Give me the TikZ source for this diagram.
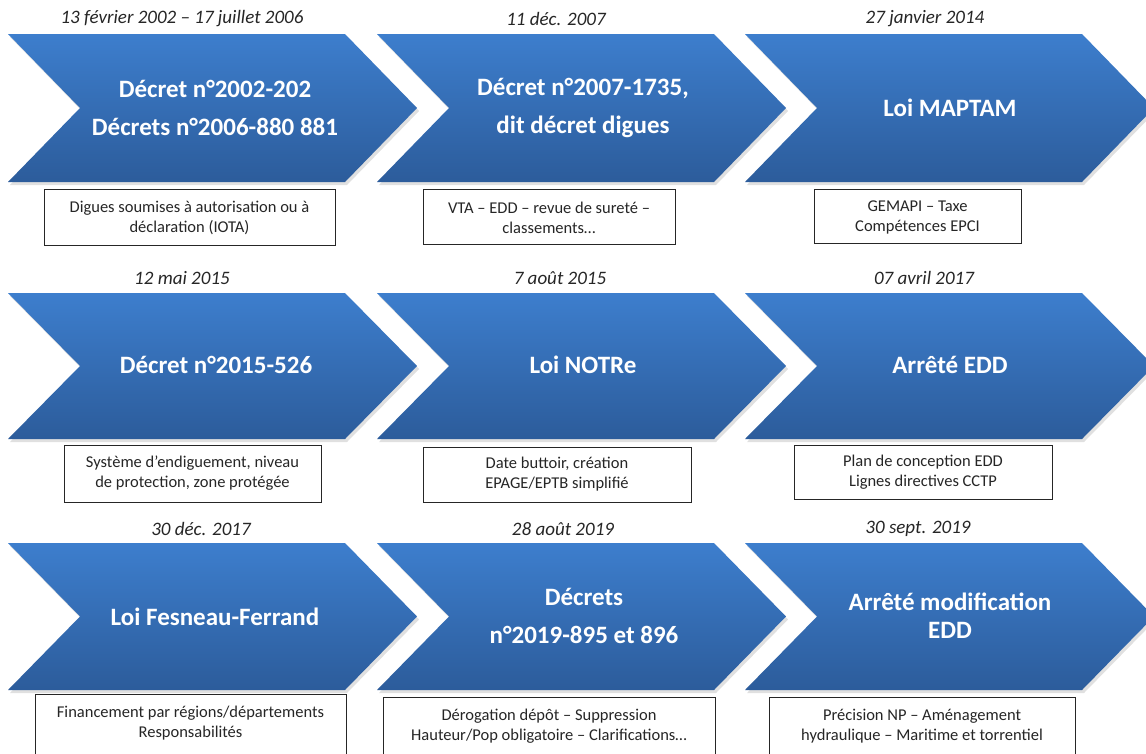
\documentclass[tikz,border=0pt]{standalone}
\usepackage{fontspec}
\setmainfont{Carlito}
\definecolor{chevtop}{RGB}{61,126,205}
\definecolor{chevbot}{RGB}{44,92,155}
\tikzset{
  chev/.style={top color=chevtop, bottom color=chevbot, draw=none},
  chevshadow/.style={fill=black, opacity=0.12, draw=none},
  datelbl/.style={font=\fontsize{19}{22}\selectfont\itshape, text=black!85, inner sep=0pt},
  titlelbl/.style={font=\fontsize{25}{38}\selectfont\bfseries, text=white, align=center, inner sep=0pt},
  infobox/.style={draw=black!85, line width=0.9pt, fill=white, inner sep=0pt},
  infotxt/.style={font=\fontsize{16.5}{20}\selectfont, text=black!85, align=center, inner sep=0pt}
}
\newcommand{\chevron}[3]{% x0, top, bottom
  \pgfmathsetmacro{\cmid}{(#2+#3)/2}%
  \fill[chevshadow] (#1+2,#2+3) -- (#1+339,#2+3) -- (#1+411,\cmid+3) -- (#1+339,#3+3) -- (#1+2,#3+3) -- (#1+74,\cmid+3) -- cycle;
  \path[chev] (#1,#2) -- (#1+337,#2) -- (#1+409,\cmid) -- (#1+337,#3) -- (#1,#3) -- (#1+72,\cmid) -- cycle;
}
\begin{document}
\begin{tikzpicture}[x=1pt,y=-1pt]
\useasboundingbox (0,0) rectangle (1146,753);
\clip (0,0) rectangle (1146,753);
\fill[white] (0,0) rectangle (1146,753);
% chevrons
\chevron{8}{34}{182}
\chevron{377}{34}{182}
\chevron{745}{34}{182}
\chevron{8}{293}{439}
\chevron{377}{293}{439}
\chevron{745}{293}{439}
\chevron{8}{543}{690}
\chevron{377}{543}{690}
\chevron{745}{543}{690}
% dates
\node[datelbl] (d1) at (182,19) {13 février 2002 -- 17 juillet 2006};
\node[datelbl] (d2) at (556,19) {11 déc. 2007};
\node[datelbl] (d3) at (925,19) {27 janvier 2014};
\node[datelbl] (d4) at (182,278) {12 mai 2015};
\node[datelbl] (d5) at (560,278) {7 août 2015};
\node[datelbl] (d6) at (924,278) {07 avril 2017};
\node[datelbl] (d7) at (201,529) {30 déc. 2017};
\node[datelbl] (d8) at (563,529) {28 août 2019};
\node[datelbl] (d9) at (918,529) {30 sept. 2019};
% titles
\node[titlelbl] (t1) at (215,108) {Décret n°2002-202\\Décrets n°2006-880 881};
\node[titlelbl] (t2) at (583,108) {Décret n°2007-1735,\\dit décret digues};
\node[titlelbl] (t3) at (950,108) {Loi MAPTAM};
\node[titlelbl] (t4) at (216,365) {Décret n°2015-526};
\node[titlelbl] (t5) at (583,365) {Loi NOTRe};
\node[titlelbl] (t6) at (950,365) {Arrêté EDD};
\node[titlelbl] (t7) at (215,617) {Loi Fesneau-Ferrand};
\node[titlelbl] (t8) at (584,616) {Décrets\\n°2019-895 et 896};
\node[titlelbl, font=\fontsize{25}{28}\selectfont\bfseries] (t9) at (950,616) {Arrêté modification\\EDD};
% boxes
\draw[infobox] (44,189) rectangle (335,245);
\node[infotxt] (b1) at (189.5,218) {Digues soumises à autorisation ou à\\déclaration (IOTA)};
\draw[infobox] (423,189) rectangle (675,244);
\node[infotxt] (b2) at (549,218) {VTA -- EDD -- revue de sureté --\\classements…};
\draw[infobox] (814,189) rectangle (1021,243);
\node[infotxt] (b3) at (917.5,217) {GEMAPI -- Taxe\\Compétences EPCI};
\draw[infobox] (64,445) rectangle (321,502);
\node[infotxt] (b4) at (192.5,473) {Système d’endiguement, niveau\\de protection, zone protégée};
\draw[infobox] (423,447) rectangle (691,502);
\node[infotxt] (b5) at (557,474) {Date buttoir, création\\EPAGE/EPTB simplifié};
\draw[infobox] (794,445) rectangle (1052,499);
\node[infotxt] (b6) at (923,472) {Plan de conception EDD\\Lignes directives CCTP};
\draw[infobox] (35,694) rectangle (346,770);
\node[infotxt] (b7) at (190.5,723) {Financement par régions/départements\\Responsabilités};
\draw[infobox] (383,697) rectangle (715,770);
\node[infotxt] (b8) at (549,726) {Dérogation dépôt -- Suppression\\Hauteur/Pop obligatoire -- Clarifications…};
\draw[infobox] (769,697) rectangle (1075,770);
\node[infotxt] (b9) at (922,726) {Précision NP -- Aménagement\\hydraulique -- Maritime et torrentiel};
\end{tikzpicture}
\end{document}
